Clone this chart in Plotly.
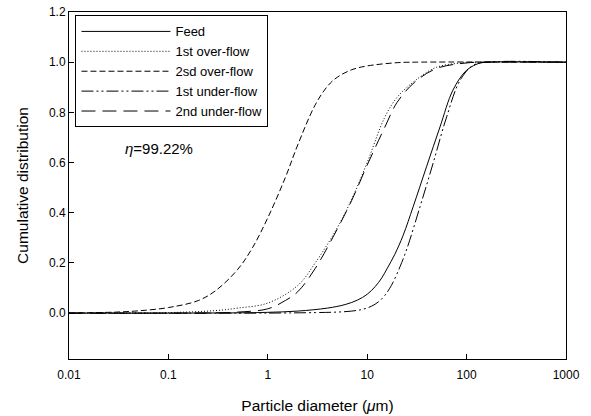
import plotly.graph_objects as go

# Particle diameter (um) and cumulative distributions
feed_x = [0.01, 0.1, 0.5, 1, 2, 4, 6, 8, 10, 12, 14, 16, 19, 23, 29, 39.5, 54, 73, 100, 137, 160, 1000]
feed_y = [0.0, 0.0, 0.001, 0.003, 0.008, 0.02, 0.034, 0.052, 0.075, 0.105, 0.14, 0.18, 0.235, 0.31, 0.424, 0.583, 0.742, 0.889, 0.968, 0.997, 1.0, 1.0]

over1_x = [0.01, 0.1, 0.3, 0.5, 1, 2, 3, 5, 7, 10, 15, 20, 30, 50, 100, 150, 1000]
over1_y = [0.0, 0.002, 0.01, 0.02, 0.04, 0.11, 0.2, 0.34, 0.455, 0.6, 0.78, 0.86, 0.925, 0.98, 0.998, 1.0, 1.0]

over2_x = [0.01, 0.03, 0.05, 0.1, 0.2, 0.3, 0.5, 0.7, 1, 1.5, 2, 3, 4, 5, 7, 10, 20, 30, 1000]
over2_y = [0.0, 0.004, 0.009, 0.022, 0.05, 0.09, 0.175, 0.26, 0.38, 0.54, 0.67, 0.83, 0.905, 0.94, 0.97, 0.985, 0.998, 1.0, 1.0]

under1_x = [0.01, 1, 3, 5, 7, 9, 11, 13, 15, 17.5, 21.4, 25, 34, 46, 63, 86, 117, 160, 1000]
under1_y = [0.0, 0.0, 0.002, 0.004, 0.008, 0.015, 0.027, 0.045, 0.07, 0.11, 0.185, 0.255, 0.424, 0.597, 0.782, 0.928, 0.988, 1.0, 1.0]

under2_x = [0.01, 0.3, 0.5, 1, 1.5, 2, 3, 5, 7, 10, 15, 20, 30, 50, 100, 150, 1000]
under2_y = [0.0, 0.001, 0.004, 0.017, 0.05, 0.085, 0.178, 0.335, 0.45, 0.59, 0.74, 0.84, 0.92, 0.975, 0.997, 1.0, 1.0]

x_ticks = [0.01, 0.1, 1, 10, 100, 1000]
x_tick_labels = ["0.01", "0.1", "1", "10", "100", "1000"]
y_ticks = [0.0, 0.2, 0.4, 0.6, 0.8, 1.0, 1.2]

series = [
    ("Feed", feed_x, feed_y, "solid"),
    ("1st over-flow", over1_x, over1_y, "1px,2px"),
    ("2sd over-flow", over2_x, over2_y, "6px,3px"),
    ("1st under-flow", under1_x, under1_y, "12px,3px,2px,3px,2px,3px"),
    ("2nd under-flow", under2_x, under2_y, "14px,7px"),
]

fig = go.Figure()
for name, xs, ys, dash in series:
    fig.add_trace(go.Scatter(
        x=xs, y=ys, name=name, mode="lines",
        line=dict(color="black", width=1, dash=dash, shape="spline", smoothing=1.0),
    ))

font_family = "Liberation Sans, Arial, sans-serif"

fig.add_annotation(
    x=0.108, y=0.608, xref="paper", yref="paper", xanchor="left", yanchor="middle",
    text="<i>η</i>=99.22%", showarrow=False, font=dict(size=15, color="black", family=font_family),
)

fig.update_layout(
    width=591, height=416,
    margin=dict(l=69, r=25, t=12, b=57, autoexpand=False),
    paper_bgcolor="white", plot_bgcolor="white",
    font=dict(family=font_family, size=12, color="black"),
    showlegend=True,
    legend=dict(
        x=0.013, y=0.99, xanchor="left", yanchor="top",
        bordercolor="black", borderwidth=1, bgcolor="white",
        font=dict(size=13), itemwidth=89, tracegroupgap=0,
    ),
    xaxis=dict(
        type="log", range=[-2, 3], tickvals=x_ticks, ticktext=x_tick_labels,
        showgrid=False, zeroline=False, showline=True, linecolor="black", linewidth=1,
        mirror=True, ticks="inside", ticklen=5, tickcolor="black", ticklabelstandoff=5,
        automargin=False,
        title=dict(text="Particle diameter (<i>μ</i>m)", font=dict(size=15.5), standoff=18),
    ),
    yaxis=dict(
        range=[-0.183, 1.2], tickvals=y_ticks, tickformat=".1f",
        showgrid=False, zeroline=False, showline=True, linecolor="black", linewidth=1,
        mirror=True, ticks="inside", ticklen=5, tickcolor="black",
        automargin=False,
        title=dict(text="Cumulative distribution", font=dict(size=15.5), standoff=16),
    ),
)

fig.write_html("out.html")
